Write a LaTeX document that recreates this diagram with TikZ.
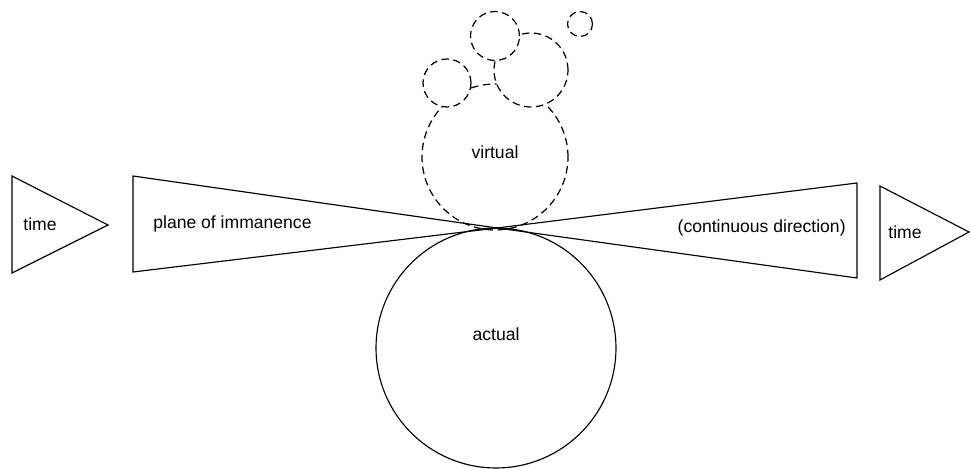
\documentclass[tikz,border=0pt]{standalone}
\usepackage{fontspec}
\setmainfont{Liberation Sans}
\begin{document}
\begin{tikzpicture}[x=0.02cm,y=-0.02cm,
  outline/.style={draw=black,line width=0.65pt,line join=miter},
  dashcircle/.style={circle,draw=black,fill=white,line width=0.7pt,dash pattern=on 4.2pt off 2.6pt,inner sep=0pt},
  solidcircle/.style={circle,draw=black,line width=0.65pt,inner sep=0pt},
  lbl/.style={font=\fontsize{10}{12}\selectfont,inner sep=0pt}]
\useasboundingbox (0,0) rectangle (971,469);
% left time triangle
\coordinate (lt1) at (12,176);
\coordinate (lt2) at (12,273);
\coordinate (lt3) at (108,225);
\draw[outline] (lt1) -- (lt3) -- (lt2) -- cycle;
\node[lbl] (ltime) at (40,224) {time};
% virtual (drawn first, so the small circles overlap it)
\node[dashcircle,minimum size=2.92cm] (virtual) at (495,157) {};
\node[lbl] (virtuallbl) at (495,152) {virtual};
% small virtual circles
\node[dashcircle,minimum size=1.48cm] (v3) at (531,70) {};
\node[dashcircle,minimum size=0.98cm] (v2) at (495,36) {};
\node[dashcircle,minimum size=0.96cm] (v1) at (447,83) {};
\node[dashcircle,minimum size=0.50cm] (v4) at (580,24) {};
% wedges
\coordinate (tip) at (497,228);
\coordinate (pl1) at (133,176);
\coordinate (pl2) at (133,272);
\coordinate (pr1) at (857,183);
\coordinate (pr2) at (857,278);
\draw[outline] (pl1) -- (tip) -- (pl2) -- cycle;
\draw[outline] (pr1) -- (tip) -- (pr2) -- cycle;
\node[lbl,anchor=west] (plane) at (153,224) {plane of immanence};
\node[lbl,anchor=east] (cont) at (846,228) {(continuous direction)};
% right time triangle
\coordinate (rt1) at (880,186);
\coordinate (rt2) at (880,280);
\coordinate (rt3) at (969,232);
\draw[outline] (rt1) -- (rt3) -- (rt2) -- cycle;
\node[lbl] (rtime) at (905,232) {time};
% actual
\node[solidcircle,minimum size=4.8cm] (actual) at (496,348) {};
\node[lbl] (actuallbl) at (496,334) {actual};
\end{tikzpicture}
\end{document}
